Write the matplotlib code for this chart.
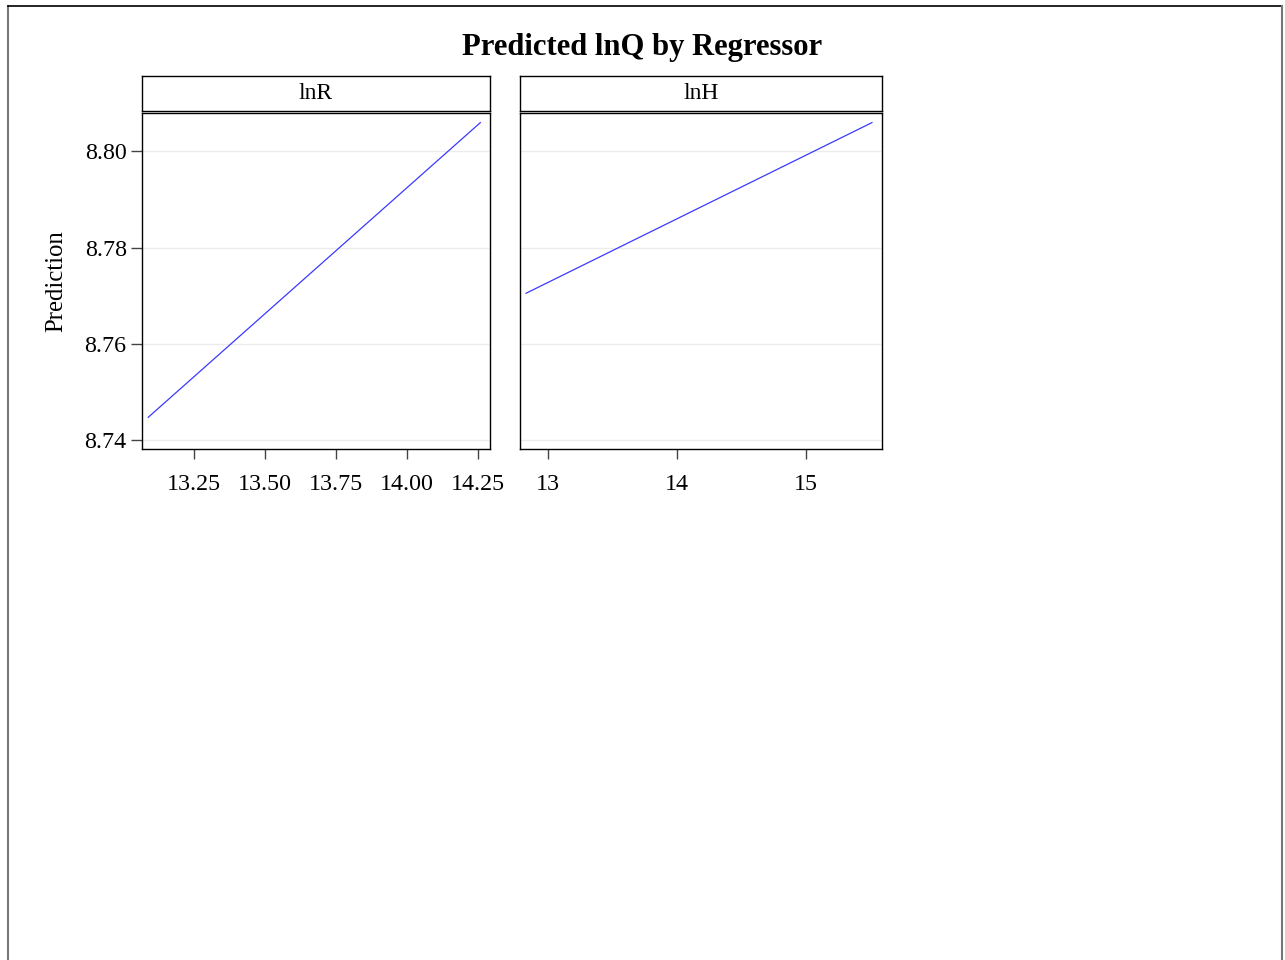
import matplotlib
matplotlib.use("Agg")
import matplotlib.pyplot as plt
from matplotlib.lines import Line2D

plt.rcParams['font.family'] = ['Liberation Serif', 'DejaVu Serif']

# Data
panels = ["lnR", "lnH"]
lnR_x = [13.090, 14.258]
lnR_pred = [8.7447, 8.8060]
lnH_x = [12.827, 15.515]
lnH_pred = [8.7705, 8.8060]
lnR_ticks = [13.25, 13.50, 13.75, 14.00, 14.25]
lnR_ticklabels = ["13.25", "13.50", "13.75", "14.00", "14.25"]
lnH_ticks = [13, 14, 15]
lnH_ticklabels = ["13", "14", "15"]
y_ticks = [8.74, 8.76, 8.78, 8.80]
y_ticklabels = ["8.74", "8.76", "8.78", "8.80"]

W, H = 1285, 960
fig = plt.figure(figsize=(W / 100, H / 100), dpi=100)

def fx(px):
    return px / W

def fy(py):
    return 1 - py / H

# outer border (cut at bottom)
fig.add_artist(Line2D([fx(8), fx(8)], [fy(6), 0], color="#777777", lw=1.5, transform=fig.transFigure))
fig.add_artist(Line2D([fx(8), fx(1282)], [fy(6), fy(6)], color="black", lw=1.2, transform=fig.transFigure))
fig.add_artist(Line2D([fx(1282), fx(1282)], [fy(6), 0], color="#777777", lw=1.5, transform=fig.transFigure))

specs = [
    (142, 490, lnR_x, lnR_pred, (13.068, 14.292), lnR_ticks, lnR_ticklabels),
    (520, 882, lnH_x, lnH_pred, (12.78, 15.593), lnH_ticks, lnH_ticklabels),
]
ylim = (8.7381, 8.808)
top, bot = 113, 449
s_top, s_bot = 76, 111

for i, (l, r, xs, ys, xlim, xt, xtl) in enumerate(specs):
    ax = fig.add_axes([fx(l), fy(bot), (r - l) / W, (bot - top) / H])
    for yv in y_ticks:
        ax.axhline(yv, color="#ececec", lw=1.0, zorder=0)
    ax.plot(xs, ys, color="#3a3aff", lw=0.9)
    ax.set_xlim(*xlim)
    ax.set_ylim(*ylim)
    ax.set_xticks(xt)
    ax.set_xticklabels(xtl)
    ax.tick_params(axis="x", direction="out", length=7, width=1.0, color="#444444",
                   labelsize=17.3, pad=11)
    if i == 0:
        ax.set_yticks(y_ticks)
        ax.set_yticklabels(y_ticklabels)
        ax.tick_params(axis="y", direction="out", length=8, width=1.0, color="#444444",
                       labelsize=17.3, pad=3)
        ax.set_ylabel("Prediction", fontsize=17.8, labelpad=12.5)
    else:
        ax.set_yticks([])
    for sp in ax.spines.values():
        sp.set_linewidth(1.0)
        sp.set_color("black")

    sax = fig.add_axes([fx(l), fy(s_bot), (r - l) / W, (s_bot - s_top) / H])
    sax.set_xticks([])
    sax.set_yticks([])
    for sp in sax.spines.values():
        sp.set_linewidth(1.0)
    sax.text(0.5, 0.5, panels[i], ha="center", va="center", fontsize=17,
             transform=sax.transAxes)

fig.text(fx(642), fy(48), "Predicted lnQ by Regressor", ha="center", va="center",
         fontsize=22.1, fontweight="bold")

fig.savefig("out.png", dpi=100, facecolor="white")
